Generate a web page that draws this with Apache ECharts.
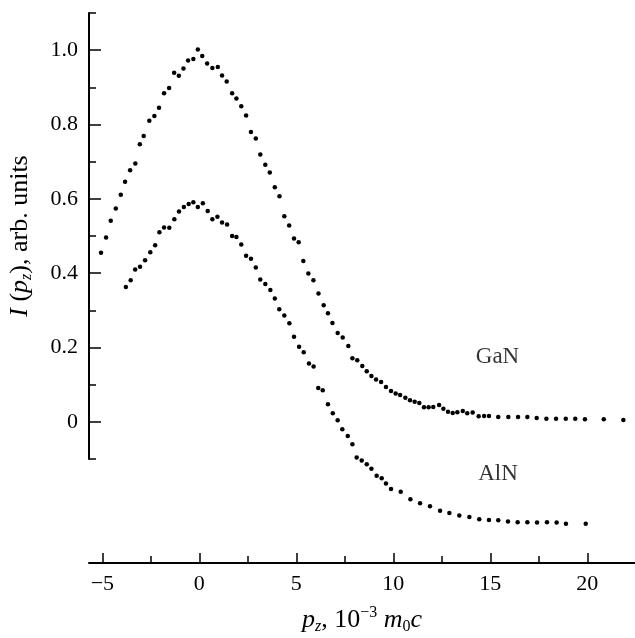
<!DOCTYPE html>
<html>
<head>
<meta charset="utf-8">
<script src="https://cdn.jsdelivr.net/npm/echarts@6/dist/echarts.min.js"></script>
<style>html,body{margin:0;padding:0;background:#fff;}#c{width:635px;height:638px;}</style>
</head>
<body>
<div id="c"></div>
<script>
// GaN profile: [p_z (1e-3 m0c), I(p_z)]
const ganPoints = [
[-5.07,0.455],[-4.81,0.496],[-4.57,0.541],[-4.31,0.574],[-4.05,0.611],[-3.83,0.646],[-3.57,0.677],[-3.30,0.695],
[-3.07,0.747],[-2.87,0.769],[-2.58,0.810],[-2.32,0.823],[-2.08,0.845],[-1.82,0.884],[-1.56,0.898],[-1.30,0.939],
[-1.06,0.931],[-0.82,0.951],[-0.58,0.972],[-0.31,0.976],[-0.08,1.002],[0.15,0.984],[0.40,0.964],[0.67,0.952],
[0.95,0.955],[1.17,0.932],[1.41,0.916],[1.69,0.884],[1.91,0.870],[2.16,0.849],[2.41,0.824],[2.66,0.780],
[2.91,0.762],[3.14,0.719],[3.40,0.692],[3.63,0.671],[3.89,0.631],[4.13,0.607],[4.38,0.553],[4.63,0.528],
[4.88,0.493],[5.12,0.483],[5.36,0.433],[5.62,0.399],[5.88,0.381],[6.14,0.345],[6.41,0.314],[6.63,0.292],
[6.86,0.266],[7.13,0.239],[7.39,0.227],[7.68,0.204],[7.89,0.171],[8.14,0.166],[8.40,0.150],[8.63,0.136],
[8.87,0.123],[9.11,0.114],[9.37,0.107],[9.62,0.094],[9.88,0.083],[10.12,0.076],[10.35,0.072],[10.62,0.065],
[10.86,0.058],[11.10,0.054],[11.34,0.051],[11.58,0.039],[11.82,0.039],[12.06,0.040],[12.36,0.045],[12.58,0.035],
[12.82,0.027],[13.06,0.024],[13.30,0.026],[13.58,0.029],[13.81,0.023],[14.09,0.025],[14.40,0.015],[14.68,0.016],
[14.93,0.016],[15.41,0.013],[15.93,0.013],[16.43,0.013],[16.91,0.013],[17.39,0.010],[17.89,0.008],[18.39,0.008],
[18.89,0.008],[19.38,0.008],[19.88,0.007],[20.85,0.007],[21.86,0.005]
];
// AlN profile (shifted down in the figure)
const alnPoints = [
[-3.79,0.363],[-3.54,0.381],[-3.31,0.410],[-3.06,0.417],[-2.80,0.435],[-2.53,0.456],[-2.28,0.475],[-2.06,0.510],
[-1.82,0.523],[-1.55,0.522],[-1.29,0.545],[-1.05,0.566],[-0.80,0.578],[-0.55,0.586],[-0.31,0.591],[-0.08,0.578],
[0.18,0.588],[0.43,0.567],[0.67,0.545],[0.93,0.552],[1.17,0.536],[1.43,0.531],[1.69,0.500],[1.91,0.497],
[2.16,0.477],[2.41,0.447],[2.66,0.439],[2.91,0.415],[3.14,0.383],[3.40,0.371],[3.66,0.355],[3.89,0.332],
[4.12,0.303],[4.38,0.286],[4.64,0.265],[4.88,0.229],[5.14,0.202],[5.38,0.187],[5.65,0.157],[5.89,0.149],
[6.13,0.091],[6.36,0.085],[6.63,0.047],[6.88,0.023],[7.13,0.004],[7.37,-0.020],[7.65,-0.038],[7.89,-0.060],
[8.11,-0.096],[8.37,-0.104],[8.63,-0.114],[8.87,-0.126],[9.14,-0.145],[9.40,-0.152],[9.62,-0.166],[9.88,-0.181],
[10.38,-0.188],[10.88,-0.208],[11.38,-0.219],[11.89,-0.227],[12.41,-0.239],[12.89,-0.245],[13.40,-0.252],[13.92,-0.256],
[14.43,-0.262],[14.93,-0.264],[15.41,-0.265],[15.91,-0.268],[16.41,-0.270],[16.91,-0.270],[17.41,-0.271],[17.92,-0.270],
[18.42,-0.271],[18.90,-0.274],[19.92,-0.274]
];
const curveLabels = [
  {name: 'GaN', value: [15.37, 0.174]},
  {name: 'AlN', value: [15.40, -0.141]}
];
const xMajorTicks = [-5, 0, 5, 10, 15, 20];
const xMinorTicks = [-2.5, 2.5, 7.5, 12.5, 17.5];
const yMajorTicks = [0, 0.2, 0.4, 0.6, 0.8, 1.0];

const FONT = '"Liberation Serif", "DejaVu Serif", serif';
const chart = echarts.init(document.getElementById('c'), null, {renderer: 'canvas'});
const lineStyle = {color: '#000', width: 2};
const xLabelFmt = v => (v < 0 ? '\u2212' + Math.abs(v) : String(v));
const nameRich = {
  t: {fontFamily: FONT, fontSize: 26, color: '#000', lineHeight: 30, verticalAlign: 'middle'},
  i: {fontFamily: FONT, fontSize: 26, fontStyle: 'italic', color: '#000', lineHeight: 30, verticalAlign: 'middle'},
  sub: {fontFamily: FONT, fontSize: 16, color: '#000', lineHeight: 14, verticalAlign: 'bottom'},
  isub: {fontFamily: FONT, fontSize: 16, fontStyle: 'italic', color: '#000', lineHeight: 14, verticalAlign: 'bottom'},
  sup: {fontFamily: FONT, fontSize: 16, color: '#000', lineHeight: 14, verticalAlign: 'top'}
};

chart.setOption({
  animation: false,
  backgroundColor: '#fff',
  grid: {left: 89, right: 0, top: 13, height: 446, containLabel: false, outerBoundsMode: 'none'},
  xAxis: [
    {
      type: 'value', min: -5.69, max: 22.46, offset: 104, position: 'bottom',
      axisLine: {show: true, onZero: false, lineStyle: lineStyle},
      axisTick: {show: true, inside: true, length: 10, customValues: xMajorTicks, lineStyle: {color: '#000', width: 1.5}},
      axisLabel: {customValues: xMajorTicks, formatter: xLabelFmt, color: '#000', fontFamily: FONT, fontSize: 22, margin: 10},
      splitLine: {show: false},
      name: '{i|p}{isub|z}{t|, 10}{sup|\u22123}{t| }{i|m}{sub|0}{i|c}',
      nameLocation: 'middle', nameGap: 42,
      nameTextStyle: {rich: nameRich}
    },
    {
      type: 'value', min: -5.69, max: 22.46, offset: 104, position: 'bottom',
      axisLine: {show: false, onZero: false},
      axisTick: {show: true, inside: true, length: 7, customValues: xMinorTicks, lineStyle: {color: '#000', width: 1.5}},
      axisLabel: {show: false},
      splitLine: {show: false}
    }
  ],
  yAxis: [
    {
      type: 'value', min: -0.1, max: 1.1, interval: 0.1, position: 'left',
      axisLine: {show: true, onZero: false, lineStyle: lineStyle},
      axisTick: {show: true, inside: true, length: 7, lineStyle: {color: '#000', width: 1.5}},
      axisLabel: {customValues: yMajorTicks, formatter: v => (v === 0 ? '0' : v.toFixed(1)), color: '#000', fontFamily: FONT, fontSize: 22, margin: 11},
      splitLine: {show: false},
      name: '{i|I}{t| (}{i|p}{isub|z}{t|), arb. units}',
      nameLocation: 'middle', nameGap: 54, nameRotate: 90,
      nameTextStyle: {rich: nameRich}
    },
    {
      type: 'value', min: -0.1, max: 1.1, position: 'left', offset: 0,
      axisLine: {show: false, onZero: false},
      axisTick: {show: true, inside: true, length: 12, customValues: yMajorTicks, lineStyle: {color: '#000', width: 1.5}},
      axisLabel: {show: false},
      splitLine: {show: false}
    }
  ],
  series: [
    {
      name: 'GaN', type: 'scatter', data: ganPoints, symbol: 'circle', symbolSize: 4.5,
      itemStyle: {color: '#000', opacity: 1}, clip: false, silent: true
    },
    {
      name: 'AlN', type: 'scatter', data: alnPoints, symbol: 'circle', symbolSize: 4.5,
      itemStyle: {color: '#000', opacity: 1}, clip: false, silent: true
    },
    {
      name: 'labels', type: 'scatter', data: curveLabels, symbolSize: 0, clip: false, silent: true,
      label: {show: true, position: 'inside', formatter: p => p.name, color: '#000', fontFamily: FONT, fontSize: 23}
    }
  ]
});
</script>
</body>
</html>
